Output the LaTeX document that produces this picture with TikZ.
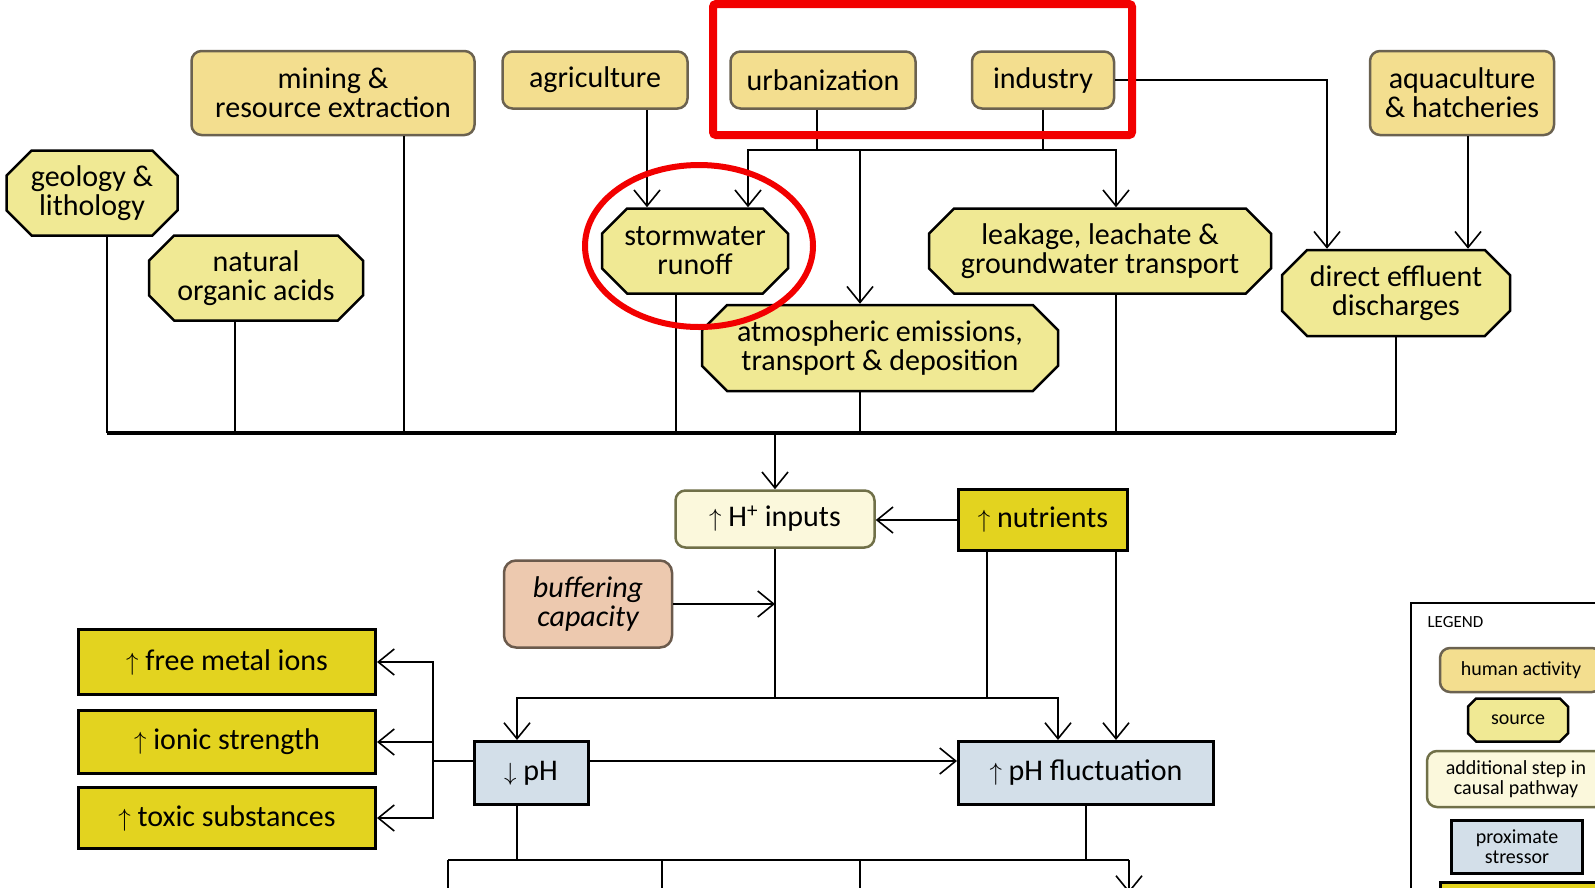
\documentclass[tikz,border=0pt]{standalone}
\usepackage{fontspec}
\setmainfont{Carlito}
\usepackage{tikz}
\usetikzlibrary{shapes.misc,arrows.meta}
\definecolor{humfill}{HTML}{F3DE8F}
\definecolor{humline}{HTML}{6B6250}
\definecolor{srcfill}{HTML}{F0E994}
\definecolor{stepfill}{HTML}{FBF8DC}
\definecolor{stepline}{HTML}{707048}
\definecolor{strfill}{HTML}{E3D31F}
\definecolor{buffill}{HTML}{EDC9AF}
\definecolor{bufline}{HTML}{6B5A4C}
\definecolor{proxfill}{HTML}{D3DFE9}
\definecolor{mark}{HTML}{F20000}
\tikzset{
  base/.style={align=center, inner sep=0pt, text=black, font=\fontsize{30pt}{29pt}\selectfont},
  human/.style={base, draw=humline, fill=humfill, line width=2.5pt, rounded corners=10pt},
  source/.style={base, chamfered rectangle, chamfered rectangle xsep=22pt, draw=black, fill=srcfill, line width=2.5pt},
  stepbox/.style={base, draw=stepline, fill=stepfill, line width=2.5pt, rounded corners=10pt},
  stressor/.style={base, draw=black, fill=strfill, line width=3pt},
  modifier/.style={base, draw=bufline, fill=buffill, line width=2.5pt, rounded corners=12pt, font=\fontsize{30pt}{29pt}\selectfont\itshape},
  proximate/.style={base, draw=black, fill=proxfill, line width=3pt},
  small/.style={font=\fontsize{20pt}{20pt}\selectfont},
  link/.style={draw=black, line width=2.5pt},
  busline/.style={draw=black, line width=4pt},
  arr/.style={link, -{Straight Barb[length=16pt, width=26pt, line width=1.6pt]}},
  redmark/.style={draw=mark, line width=8pt},
}

\begin{document}
\begin{tikzpicture}[x=1pt, y=-1pt]
  \useasboundingbox[fill=white] (0,0) rectangle (1595,887);

  % human activities
  \node[human, minimum width=283pt, minimum height=84pt] (mine) at (333,93) {mining \&\\resource extraction};
  \node[human, minimum width=185pt, minimum height=57pt] (agri) at (595,80) {agriculture};
  \node[human, minimum width=185pt, minimum height=57pt] (urb) at (823,80) {urbanization};
  \node[human, minimum width=142pt, minimum height=57pt] (ind) at (1043,80) {industry};
  \node[human, minimum width=184pt, minimum height=84pt] (aqua) at (1462,93) {aquaculture\\\& hatcheries};

  % sources
  \node[source, minimum width=171pt, minimum height=85pt] (geo) at (92,193) {geology \&\\lithology};
  \node[source, minimum width=214pt, minimum height=85pt] (nat) at (256,278) {natural\\organic acids};
  \node[source, minimum width=186pt, minimum height=85pt] (storm) at (695,251) {stormwater\\runoff};
  \node[source, minimum width=356pt, minimum height=86pt] (atm) at (880,348) {atmospheric emissions,\\transport \& deposition};
  \node[source, minimum width=342pt, minimum height=85pt] (leak) at (1100,251) {leakage, leachate \&\\groundwater transport};
  \node[source, minimum width=228pt, minimum height=86pt] (dis) at (1396,293) {direct effluent\\discharges};

  % steps and stressors
  \node[stepbox, minimum width=199pt, minimum height=57pt] (hin) at (775,519) {$\uparrow$ H\textsuperscript{+} inputs};
  \node[stressor, minimum width=169pt, minimum height=61pt] (nut) at (1043,520) {$\uparrow$ nutrients};
  \node[modifier, minimum width=168pt, minimum height=87pt] (buf) at (588,604) {buffering\\capacity};
  \node[stressor, minimum width=297pt, minimum height=65pt] (fmi) at (227,662) {$\uparrow$ free metal ions};
  \node[stressor, minimum width=297pt, minimum height=63pt] (ion) at (227,742) {$\uparrow$ ionic strength};
  \node[stressor, minimum width=297pt, minimum height=61pt] (tox) at (227,818) {$\uparrow$ toxic substances};
  \node[proximate, minimum width=114pt, minimum height=63pt] (ph) at (531,773) {$\downarrow$ pH};
  \node[proximate, minimum width=255pt, minimum height=63pt] (phf) at (1086,773) {$\uparrow$ pH fluctuation};

  % activities to sources
  \coordinate (ui) at (860,150);
  \draw[arr] ([xshift=52pt]agri.south) -- ([xshift=52pt]agri.south |- storm.north);
  \draw[link] ([xshift=-6pt]urb.south) |- (ui);
  \draw[link] (ind.south) |- (ui);
  \draw[arr] (ui) -| ([xshift=53pt]storm.north);
  \draw[arr] (ui) -- (ui |- atm.north);
  \draw[arr] (ui) -| ([xshift=16pt]leak.north);
  \draw[arr] (ind.east) -| ([xshift=-69pt]dis.north);
  \draw[arr] ([xshift=6pt]aqua.south) -- ([xshift=6pt]aqua.south |- dis.north);

  % sources to H+ inputs
  \coordinate (bus) at (775,433);
  \foreach \n/\s in {geo/15, nat/-21, mine/71, storm/-19, atm/-20, leak/16, dis/0}
    \draw[link] ([xshift=\s pt]\n.south) -- ([xshift=\s pt]\n.south |- bus);
  \draw[busline] ([xshift=15pt]geo.south |- bus) -- (dis.south |- bus);
  \draw[arr] (bus) -- (hin.north);
  \draw[arr] (nut.west) -- (nut.west -| hin.east);

  % to pH
  \coordinate (mix) at (775,698);
  \draw[link] (hin.south) -- (mix);
  \draw[arr] (buf.east) -- (buf.east -| mix);
  \draw[arr] (mix) -| ([xshift=-14pt]ph.north);
  \draw[arr] (mix) -| ([xshift=-28pt]phf.north);
  \draw[link] ([xshift=-56pt]nut.south) -- ([xshift=-56pt]nut.south |- mix);
  \draw[arr] ([xshift=73pt]nut.south) -- ([xshift=73pt]nut.south |- phf.north);
  \draw[arr] ([yshift=12pt]ph.east) -- ([yshift=12pt]ph.east -| phf.west);

  % pH to stressors
  \coordinate (fan) at (433,761);
  \draw[link] ([yshift=12pt]ph.west) -- (fan);
  \draw[arr] (fan) |- (fmi.east);
  \draw[arr] (fan) |- (ion.east);
  \draw[arr] (fan) |- (tox.east);

  % further down
  \coordinate (low) at (662,860);
  \coordinate (lowW) at (448,860);
  \coordinate (lowE) at (1129,860);
  \draw[link] ([xshift=-14pt]ph.south) |- (low);
  \draw[link] (phf.south) |- (low);
  \draw[link] (lowW) -- (lowE);
  \foreach \x in {448,662,860}
    \draw[link] (\x,860) -- (\x,900);
  \draw[arr] (lowE) -- (1129,893);

  % legend
  \draw[line width=2pt] (1411,603) rectangle (1620,920);
  \node[small, anchor=west, font=\fontsize{17pt}{17pt}\selectfont] (leg) at (1424,622) {LEGEND};
  \node[human, small, minimum width=162pt, minimum height=44pt] (lhum) at (1521,670) {human activity};
  \node[source, small, chamfered rectangle xsep=12pt, minimum width=100pt, minimum height=43pt] (lsrc) at (1518,720) {source};
  \node[stepbox, small, minimum width=178pt, minimum height=56pt] (lstep) at (1516,779) {additional step in\\causal pathway};
  \node[proximate, small, minimum width=131pt, minimum height=53pt] (lprox) at (1517,847) {proximate\\stressor};
  \node[stressor, small, minimum width=160pt, minimum height=40pt] (lstr) at (1520,902) {};

  % highlights
  \draw[redmark, rounded corners=3pt] (713,4) rectangle (1132,135);
  \draw[redmark, line width=6pt] (699,246) ellipse [x radius=114pt, y radius=81pt];
\end{tikzpicture}
\end{document}
